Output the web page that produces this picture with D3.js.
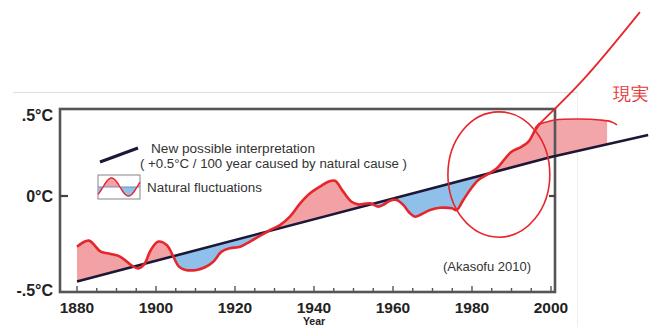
<!DOCTYPE html>
<html>
<head>
<meta charset="utf-8">
<script src="https://cdn.jsdelivr.net/npm/d3@7/dist/d3.min.js"></script>
<style>
  html, body { margin: 0; padding: 0; background: #fff; }
  svg { display: block; }
  text { font-family: "Liberation Sans", Arial, sans-serif; }
</style>
</head>
<body>
<svg id="chart" width="662" height="327"></svg>
<script>
// Global temperature anomaly (°C) vs. year, smoothed record
const years = [1880, 1883, 1886, 1888.5, 1891, 1893.8, 1895.5, 1897, 1898.7, 1900.6,
  1902.7, 1904.4, 1905.8, 1907.5, 1910.3, 1912.4, 1914.5, 1916.6, 1918.7, 1921.3,
  1923.8, 1926.3, 1928.9, 1931.4, 1933.9, 1936.5, 1939, 1941.5, 1943.6, 1945.3,
  1947.4, 1949.5, 1951.2, 1954.2, 1956.3, 1957.5, 1959.2, 1960.9, 1962.6, 1964.3,
  1965.6, 1967.3, 1969.4, 1971.9, 1974.9, 1976.1, 1977.8, 1979.5, 1981.6, 1983.7,
  1986.3, 1988.5, 1990, 1992.6, 1994.3, 1996, 1997.2];
const observed = [-0.267, -0.235, -0.293, -0.305, -0.32, -0.365, -0.381, -0.36, -0.284, -0.24,
  -0.258, -0.319, -0.372, -0.389, -0.389, -0.375, -0.346, -0.293, -0.275, -0.267,
  -0.24, -0.21, -0.179, -0.153, -0.109, -0.039, 0.014, 0.049, 0.075, 0.08,
  0.023, -0.03, -0.044, -0.039, -0.056, -0.047, -0.025, -0.021, -0.047, -0.091,
  -0.109, -0.095, -0.074, -0.062, -0.065, -0.074, -0.021, 0.032, 0.084, 0.111,
  0.146, 0.2, 0.233, 0.26, 0.286, 0.347, 0.383];

// Linear trend: +0.5°C / 100 years, extended past 2000
const trendYears = [1880, 2000, 2024.6];
const trendValues = [-0.45, 0.205, 0.321];

// Recent plateau and its shaded part
const recentYears = [1997.2, 2001, 2007.3, 2012.4, 2015.4, 2016.7];
const recentValues = [0.379, 0.40, 0.405, 0.40, 0.39, 0.374];
const recentFillEnd = 2014.2;

// Hand-drawn "reality" line
const realityYears = [1996, 2008.1, 2022.5];
const realityValues = [0.358, 0.611, 0.968];

// Highlight ellipse (centre year/value and radii)
const ellipseCenter = [1986.8, 0.113];
const ellipseRadius = [12.9, 0.33];

const xTicks = [1880, 1900, 1920, 1940, 1960, 1980, 2000];
const xMinorTicks = d3.range(1880, 2001, 5);
const yTicks = [-0.5, 0, 0.5];
const yTickLabels = ["-.5°C", "0°C", ".5°C"];

const svg = d3.select("#chart");
const frame = { left: 60, right: 555, top: 109, bottom: 292 };

const x = d3.scaleLinear().domain([1880, 2000]).range([77, 551]);
const y = d3.scaleLinear().domain([-0.5, 0]).range([291, 196]);
const trendAt = d3.scaleLinear().domain(trendYears).range(trendValues);
const recentAt = d3.scaleLinear().domain(recentYears).range(recentValues);

const pink = "#f2a1a5", blue = "#8ec0ea", red = "#e6262c", navy = "#1d1736";

// page border lines
svg.append("line").attr("x1", 13).attr("x2", 577.5).attr("y1", 92.5).attr("y2", 92.5)
  .attr("stroke", "#dedede").attr("stroke-width", 1);
svg.append("line").attr("x1", 577.5).attr("x2", 577.5).attr("y1", 92.5).attr("y2", 327)
  .attr("stroke", "#eeeeee").attr("stroke-width", 1);

// clip regions above / below the trend line
const defs = svg.append("defs");
const tPts = [1860].concat(trendYears, [2040]);
const trendPath = tPts.map(t => [x(t), y(trendAt(t))]);
function clipPoly(edgeY) {
  const pts = trendPath.concat([[trendPath[trendPath.length - 1][0], edgeY], [trendPath[0][0], edgeY]]);
  return "M" + pts.map(p => p.join(",")).join("L") + "Z";
}
defs.append("clipPath").attr("id", "above").append("path").attr("d", clipPoly(-10));
defs.append("clipPath").attr("id", "below").append("path").attr("d", clipPoly(400));

const series = years.map((yr, i) => ({ year: yr, value: observed[i] }));
const curve = d3.curveCatmullRom.alpha(0.5);

const area = d3.area()
  .x(d => x(d.year))
  .y0(d => y(trendAt(d.year)))
  .y1(d => y(d.value))
  .curve(curve);

svg.append("path").datum(series).attr("d", area).attr("fill", pink).attr("clip-path", "url(#above)");
svg.append("path").datum(series).attr("d", area).attr("fill", blue).attr("clip-path", "url(#below)");

// recent plateau fill
const recentFill = recentYears.filter(t => t <= recentFillEnd).concat([recentFillEnd])
  .map(t => ({ year: t, value: recentAt(t) }));
svg.append("path").datum(recentFill)
  .attr("d", d3.area().x(d => x(d.year)).y0(d => y(trendAt(d.year))).y1(d => y(d.value)).curve(curve))
  .attr("fill", pink).attr("opacity", 0.95);

// frame
svg.append("rect")
  .attr("x", frame.left).attr("y", frame.top)
  .attr("width", frame.right - frame.left).attr("height", frame.bottom - frame.top)
  .attr("fill", "none").attr("stroke", "#555").attr("stroke-width", 2.6);

// bottom ticks (inward)
svg.append("g").selectAll("line").data(xMinorTicks).join("line")
  .attr("x1", d => x(d)).attr("x2", d => x(d))
  .attr("y1", frame.bottom).attr("y2", d => frame.bottom - (d % 20 === 0 ? 6 : 4))
  .attr("stroke", "#555").attr("stroke-width", 1.4);

// zero ticks on both sides
svg.append("line").attr("x1", frame.left).attr("x2", frame.left + 8)
  .attr("y1", y(0)).attr("y2", y(0)).attr("stroke", "#444").attr("stroke-width", 2.2);
svg.append("line").attr("x1", frame.right - 6).attr("x2", frame.right)
  .attr("y1", y(0)).attr("y2", y(0)).attr("stroke", "#444").attr("stroke-width", 2.2);

// x labels
svg.append("g").selectAll("text").data(xTicks).join("text")
  .attr("x", d => x(d)).attr("y", 312.5)
  .attr("text-anchor", "middle").attr("font-size", 15.5).attr("font-weight", "bold")
  .attr("fill", "#222").text(d => d);
svg.append("text").attr("x", 314).attr("y", 325)
  .attr("text-anchor", "middle").attr("font-size", 10.5).attr("font-weight", "bold")
  .attr("fill", "#222").text("Year");

// y labels
svg.append("g").selectAll("text").data(yTicks).join("text")
  .attr("x", 53)
  .attr("y", d => Math.min(Math.max(y(d), frame.top + 6), frame.bottom - 2))
  .attr("dy", "0.36em")
  .attr("text-anchor", "end").attr("font-size", 16).attr("font-weight", "bold")
  .attr("fill", "#222").text((d, i) => yTickLabels[i]);

// trend line
svg.append("path").datum(trendYears.map((t, i) => [t, trendValues[i]]))
  .attr("d", d3.line().x(d => x(d[0])).y(d => y(d[1])))
  .attr("fill", "none").attr("stroke", navy).attr("stroke-width", 2.6);

// observed curve
svg.append("path").datum(series)
  .attr("d", d3.line().x(d => x(d.year)).y(d => y(d.value)).curve(curve))
  .attr("fill", "none").attr("stroke", red).attr("stroke-width", 2.6).attr("stroke-linejoin", "round");

// recent plateau line
svg.append("path").datum(recentYears.map((t, i) => [t, recentValues[i]]))
  .attr("d", d3.line().x(d => x(d[0])).y(d => y(d[1])).curve(curve))
  .attr("fill", "none").attr("stroke", red).attr("stroke-width", 1.6);

// reality line
svg.append("path").datum(realityYears.map((t, i) => [t, realityValues[i]]))
  .attr("d", d3.line().x(d => x(d[0])).y(d => y(d[1])).curve(curve))
  .attr("fill", "none").attr("stroke", red).attr("stroke-width", 1.8);

// highlight ellipse
const ecx = x(ellipseCenter[0]), ecy = y(ellipseCenter[1]);
svg.append("ellipse")
  .attr("cx", ecx).attr("cy", ecy)
  .attr("rx", x(ellipseCenter[0] + ellipseRadius[0]) - ecx)
  .attr("ry", ecy - y(ellipseCenter[1] + ellipseRadius[1]))
  .attr("fill", "none").attr("stroke", red).attr("stroke-width", 1.6);

svg.append("text").attr("x", 613).attr("y", 100)
  .attr("font-family", "'Noto Sans CJK JP', sans-serif").attr("font-size", 18)
  .attr("fill", "#e63a3a").text("現実");

// legend
const lg = svg.append("g");
lg.append("line").attr("x1", 100).attr("y1", 162).attr("x2", 138).attr("y2", 148)
  .attr("stroke", navy).attr("stroke-width", 3);
lg.append("text").attr("x", 151).attr("y", 153).attr("font-size", 12.5).attr("fill", "#333")
  .attr("textLength", 164).attr("lengthAdjust", "spacingAndGlyphs")
  .text("New possible interpretation");
lg.append("text").attr("x", 140).attr("y", 167.5).attr("font-size", 12.5).attr("fill", "#333")
  .attr("textLength", 267).attr("lengthAdjust", "spacingAndGlyphs")
  .text("( +0.5°C / 100 year caused by natural cause )");

const box = { x: 98, y: 175, w: 42, h: 24 };
const mid = box.y + box.h / 2;
const wave = d3.range(0, box.w + 0.1, 1).map(px => [box.x + px,
  mid - 9 * Math.sin((px - 5) / 34 * 2 * Math.PI)]);
const waveArea = d3.area().x(d => d[0]).y0(mid).y1(d => d[1]);
defs.append("clipPath").attr("id", "lgUp").append("rect")
  .attr("x", box.x).attr("y", box.y).attr("width", box.w).attr("height", box.h / 2);
defs.append("clipPath").attr("id", "lgDown").append("rect")
  .attr("x", box.x).attr("y", mid).attr("width", box.w).attr("height", box.h / 2);
lg.append("rect").attr("x", box.x).attr("y", box.y).attr("width", box.w).attr("height", box.h)
  .attr("fill", "#fff").attr("stroke", "#999").attr("stroke-width", 1.2);
lg.append("path").datum(wave).attr("d", waveArea).attr("fill", pink).attr("clip-path", "url(#lgUp)");
lg.append("path").datum(wave).attr("d", waveArea).attr("fill", blue).attr("clip-path", "url(#lgDown)");
lg.append("line").attr("x1", box.x).attr("x2", box.x + box.w).attr("y1", mid).attr("y2", mid)
  .attr("stroke", "#6f8fd0").attr("stroke-width", 1.2);
lg.append("path").datum(wave).attr("d", d3.line()).attr("fill", "none")
  .attr("stroke", red).attr("stroke-width", 1.4);
lg.append("text").attr("x", 147).attr("y", 191.5).attr("font-size", 12.5).attr("fill", "#333")
  .attr("textLength", 115).attr("lengthAdjust", "spacingAndGlyphs")
  .text("Natural fluctuations");

svg.append("text").attr("x", 487).attr("y", 271).attr("text-anchor", "middle")
  .attr("font-size", 13).attr("fill", "#333").text("(Akasofu 2010)");
</script>
</body>
</html>
